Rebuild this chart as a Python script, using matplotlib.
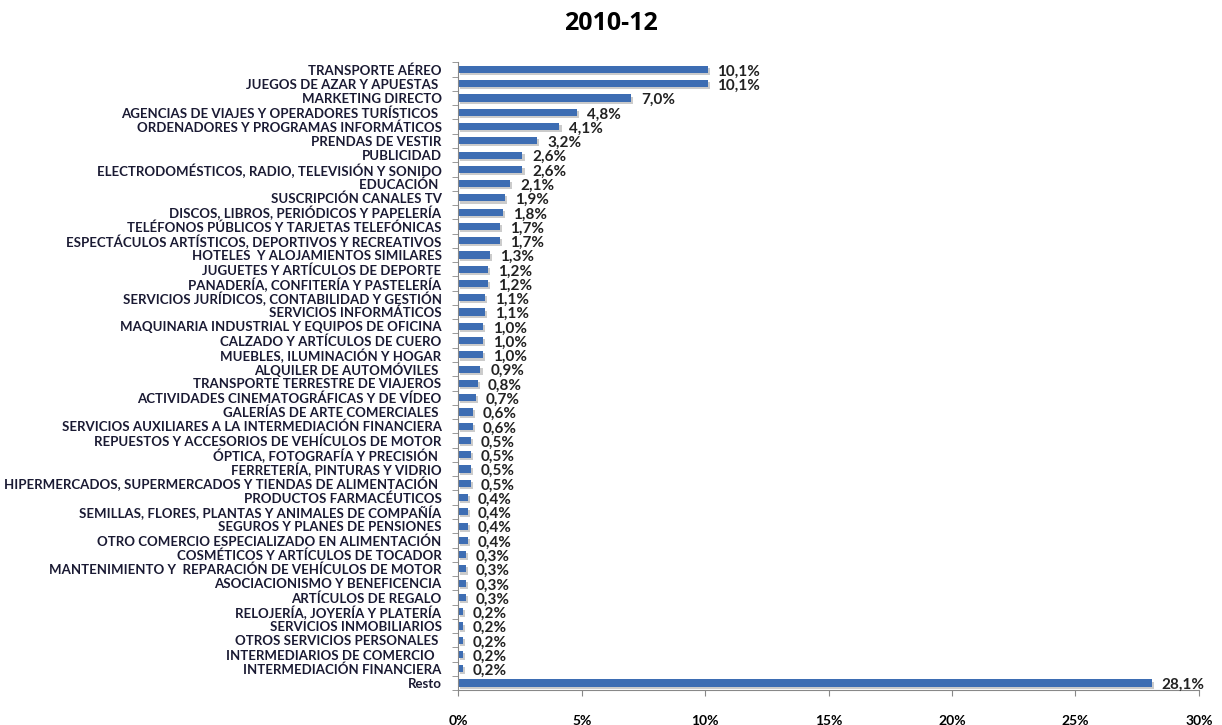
import numpy as np
import matplotlib.pyplot as plt
import matplotlib.patheffects as pe

categorias = [
    'TRANSPORTE AÉREO', 'JUEGOS DE AZAR Y APUESTAS ', 'MARKETING DIRECTO',
    'AGENCIAS DE VIAJES Y OPERADORES TURÍSTICOS ', 'ORDENADORES Y PROGRAMAS INFORMÁTICOS',
    'PRENDAS DE VESTIR', 'PUBLICIDAD', 'ELECTRODOMÉSTICOS, RADIO, TELEVISIÓN Y SONIDO',
    'EDUCACIÓN ', 'SUSCRIPCIÓN CANALES TV', 'DISCOS, LIBROS, PERIÓDICOS Y PAPELERÍA',
    'TELÉFONOS PÚBLICOS Y TARJETAS TELEFÓNICAS', 'ESPECTÁCULOS ARTÍSTICOS, DEPORTIVOS Y RECREATIVOS',
    'HOTELES  Y ALOJAMIENTOS SIMILARES', 'JUGUETES Y ARTÍCULOS DE DEPORTE',
    'PANADERÍA, CONFITERÍA Y PASTELERÍA', 'SERVICIOS JURÍDICOS, CONTABILIDAD Y GESTIÓN',
    'SERVICIOS INFORMÁTICOS', 'MAQUINARIA INDUSTRIAL Y EQUIPOS DE OFICINA',
    'CALZADO Y ARTÍCULOS DE CUERO', 'MUEBLES, ILUMINACIÓN Y HOGAR', 'ALQUILER DE AUTOMÓVILES ',
    'TRANSPORTE TERRESTRE DE VIAJEROS', 'ACTIVIDADES CINEMATOGRÁFICAS Y DE VÍDEO',
    'GALERÍAS DE ARTE COMERCIALES ', 'SERVICIOS AUXILIARES A LA INTERMEDIACIÓN FINANCIERA',
    'REPUESTOS Y ACCESORIOS DE VEHÍCULOS DE MOTOR', 'ÓPTICA, FOTOGRAFÍA Y PRECISIÓN ',
    'FERRETERÍA, PINTURAS Y VIDRIO', 'HIPERMERCADOS, SUPERMERCADOS Y TIENDAS DE ALIMENTACIÓN ',
    'PRODUCTOS FARMACÉUTICOS', 'SEMILLAS, FLORES, PLANTAS Y ANIMALES DE COMPAÑÍA',
    'SEGUROS Y PLANES DE PENSIONES', 'OTRO COMERCIO ESPECIALIZADO EN ALIMENTACIÓN',
    'COSMÉTICOS Y ARTÍCULOS DE TOCADOR', 'MANTENIMIENTO Y  REPARACIÓN DE VEHÍCULOS DE MOTOR',
    'ASOCIACIONISMO Y BENEFICENCIA', 'ARTÍCULOS DE REGALO', 'RELOJERÍA, JOYERÍA Y PLATERÍA',
    'SERVICIOS INMOBILIARIOS', 'OTROS SERVICIOS PERSONALES ', 'INTERMEDIARIOS DE COMERCIO  ',
    'INTERMEDIACIÓN FINANCIERA', 'Resto',
]
valores = [
    10.1, 10.1, 7.0, 4.8, 4.1, 3.2, 2.6, 2.6, 2.1, 1.9,
    1.8, 1.7, 1.7, 1.3, 1.2, 1.2, 1.1, 1.1, 1.0, 1.0,
    1.0, 0.9, 0.8, 0.7, 0.6, 0.6, 0.5, 0.5, 0.5, 0.5,
    0.4, 0.4, 0.4, 0.4, 0.3, 0.3, 0.3, 0.3, 0.2, 0.2,
    0.2, 0.2, 0.2, 28.1,
]

plt.rcParams['font.family'] = ['Lato', 'DejaVu Sans']
plt.rcParams['font.weight'] = 'bold'

fig = plt.figure(figsize=(12.22, 7.25), dpi=100)
ax = fig.add_axes([0.375, 0.048, 0.606, 0.866])

y = np.arange(len(categorias))
bars = ax.barh(y, valores, height=0.5, color='#3d6db3')
for b in bars:
    b.set_path_effects([pe.SimplePatchShadow(offset=(1.5, -1.5), shadow_rgbFace='#999999', alpha=0.5),
                        pe.Normal()])

for yi, v in zip(y, valores):
    ax.text(v + 0.4, yi + 0.15, f'{v:.1f}%'.replace('.', ','), va='center', ha='left',
            fontsize=11, color='#222222')

ax.set_ylim(len(categorias) - 0.5, -0.5)
ax.set_xlim(0, 30)
ax.set_yticks(y)
ax.set_yticklabels(categorias, fontsize=9.5, color='#1a1a33')
ax.tick_params(axis='y', length=0, pad=12)
ax.set_yticks(np.arange(-0.5, len(categorias), 1), minor=True)
ax.tick_params(axis='y', which='minor', length=4, color='#888888')
ax.set_xticks(np.arange(0, 31, 5))
ax.set_xticklabels([f'{t}%' for t in range(0, 31, 5)], fontsize=10)
ax.tick_params(axis='x', length=4, pad=14, color='#888888')

for s in ['top', 'right']:
    ax.spines[s].set_visible(False)
ax.spines['left'].set_color('#888888')
ax.spines['bottom'].set_color('#888888')

fig.suptitle('2010-12', x=0.5, y=0.985, fontsize=18, fontweight='bold', family=['Open Sans', 'DejaVu Sans'])

fig.savefig('out.png', dpi=100)
